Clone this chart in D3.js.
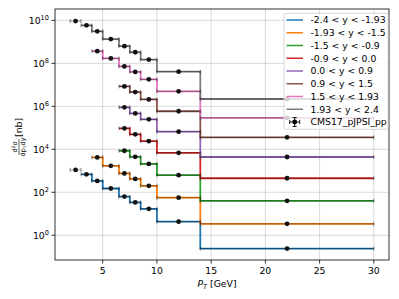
<!DOCTYPE html>
<html>
<head>
<meta charset="utf-8">
<script src="https://cdn.jsdelivr.net/npm/d3@7"></script>
<style>
  body { margin: 0; background: #fff; }
  svg { font-family: "DejaVu Sans", sans-serif; }
</style>
</head>
<body>
<svg id="chart" width="399" height="299"></svg>
<script>
// pT bin edges [GeV] and bin centres
const binEdges = [2, 3, 4, 5, 6.5, 7.5, 8.5, 10, 14, 30];
const binCenters = [2.5, 3.5, 4.5, 5.75, 7, 8, 9.25, 12, 22];

// rapidity bins (legend labels)
const seriesLabels = ["-2.4 < y < -1.93", "-1.93 < y < -1.5", "-1.5 < y < -0.9", "-0.9 < y < 0.0",
                      "0.0 < y < 0.9", "0.9 < y < 1.5", "1.5 < y < 1.93", "1.93 < y < 2.4"];

// cross sections per bin [nb], null = no bin
const ySeries = [
  [1.1e3, 6.9e2, 3.4e2, 1.5e2, 63, 34, 17, 4.3, 0.24],
  [null, null, 4.2e3, 1.7e3, 7.6e2, 4.2e2, 2.0e2, 56, 3.4],
  [null, null, null, null, 8.6e3, 4.5e3, 2.1e3, 6.3e2, 40],
  [null, null, null, null, 9.5e4, 5.0e4, 2.4e4, 6.9e3, 4.5e2],
  [null, null, null, null, 9.0e5, 4.7e5, 2.5e5, 6.6e4, 4.4e3],
  [null, null, null, null, 8.5e6, 4.6e6, 2.1e6, 5.9e5, 3.6e4],
  [null, null, 3.7e8, 1.7e8, 7.2e7, 4.0e7, 1.8e7, 5.0e6, 2.9e5],
  [9.3e9, 5.9e9, 3.1e9, 1.35e9, 6.3e8, 3.3e8, 1.5e8, 4.1e7, 2.2e6]
];
// first bin that has a step line drawn
const lineStart = [1, 2, 4, 4, 4, 4, 2, 1];

const xTicks = [5, 10, 15, 20, 25, 30];
const yTickExp = [0, 2, 4, 6, 8, 10];
const colors = ["#1f77b4", "#ff7f0e", "#2ca02c", "#d62728", "#9467bd", "#8c564b", "#e377c2", "#7f7f7f"];

const svg = d3.select("#chart");
const plotL = 55, plotR = 389, plotT = 9, plotB = 260;

const x = d3.scaleLinear().domain([0.6, 31.4]).range([plotL, plotR]);
const y = d3.scaleLog().domain([Math.pow(10, -1.15), Math.pow(10, 10.53)]).range([plotB, plotT]);

// grid
svg.append("g").selectAll("line").data(xTicks).join("line")
  .attr("x1", d => x(d)).attr("x2", d => x(d))
  .attr("y1", plotT).attr("y2", plotB)
  .attr("stroke", "#b0b0b0").attr("stroke-opacity", 0.6).attr("stroke-width", 0.8);
svg.append("g").selectAll("line").data(yTickExp).join("line")
  .attr("x1", plotL).attr("x2", plotR)
  .attr("y1", d => y(Math.pow(10, d))).attr("y2", d => y(Math.pow(10, d)))
  .attr("stroke", "#b0b0b0").attr("stroke-opacity", 0.6).attr("stroke-width", 0.8);

// step lines
const stepLine = d3.line().x(d => x(d[0])).y(d => y(d[1])).curve(d3.curveStepAfter);
ySeries.forEach((vals, s) => {
  const pts = [];
  for (let i = lineStart[s]; i < vals.length; i++) pts.push([binEdges[i], vals[i]]);
  pts.push([binEdges[vals.length], vals[vals.length - 1]]);
  svg.append("path").datum(pts)
    .attr("d", stepLine)
    .attr("fill", "none")
    .attr("stroke", colors[s])
    .attr("stroke-width", 1.8);
});

// data points with horizontal error bars
const errG = svg.append("g");
ySeries.forEach(vals => {
  vals.forEach((v, i) => {
    if (v === null) return;
    const yy = y(v), x0 = x(binEdges[i]), x1 = x(binEdges[i + 1]);
    errG.append("line").attr("x1", x0).attr("x2", x1).attr("y1", yy).attr("y2", yy)
      .attr("stroke", "#000").attr("stroke-opacity", 0.55).attr("stroke-width", 0.7);
    [x0, x1].forEach(cx => errG.append("line")
      .attr("x1", cx).attr("x2", cx).attr("y1", yy - 2).attr("y2", yy + 2)
      .attr("stroke", "#000").attr("stroke-opacity", 0.55).attr("stroke-width", 0.8));
    errG.append("circle").attr("cx", x(binCenters[i])).attr("cy", yy).attr("r", 2.4).attr("fill", "#111");
  });
});

// axes frame
svg.append("rect").attr("x", plotL).attr("y", plotT).attr("width", plotR - plotL).attr("height", plotB - plotT)
  .attr("fill", "none").attr("stroke", "#000").attr("stroke-width", 0.8);

// x ticks
const xg = svg.append("g");
xTicks.forEach(t => {
  xg.append("line").attr("x1", x(t)).attr("x2", x(t)).attr("y1", plotB).attr("y2", plotB + 3.5)
    .attr("stroke", "#000").attr("stroke-width", 0.8);
  xg.append("text").attr("x", x(t)).attr("y", plotB + 14).attr("text-anchor", "middle")
    .attr("font-size", 9.3).text(t);
});

// y ticks
const yg = svg.append("g");
yTickExp.forEach(e => {
  const yy = y(Math.pow(10, e));
  yg.append("line").attr("x1", plotL - 3.5).attr("x2", plotL).attr("y1", yy).attr("y2", yy)
    .attr("stroke", "#000").attr("stroke-width", 0.8);
  const t = yg.append("text").attr("x", plotL - 6).attr("y", yy + 3.3).attr("text-anchor", "end")
    .attr("font-size", 9.3);
  t.append("tspan").text("10");
  t.append("tspan").attr("dy", -4).attr("font-size", 6.6).text(e);
});

// x label
const xl = svg.append("text").attr("x", 217).attr("y", 287).attr("text-anchor", "middle").attr("font-size", 9.3);
xl.append("tspan").attr("font-style", "italic").text("P");
xl.append("tspan").attr("font-style", "italic").attr("font-size", 6.5).attr("dy", 2).text("T");
xl.append("tspan").attr("dy", -2).text(" [GeV]");

// y label: fraction d²σ / dp_T dy [nb]
const yl = svg.append("g").attr("transform", "translate(19,140) rotate(-90)");
const num = yl.append("text").attr("x", -7).attr("y", -2).attr("text-anchor", "middle").attr("font-size", 6.5);
num.append("tspan").text("d");
num.append("tspan").attr("dy", -2).attr("font-size", 4.5).text("2");
num.append("tspan").attr("dy", 2).text("σ");
yl.append("line").attr("x1", -15).attr("x2", 1).attr("y1", 0).attr("y2", 0)
  .attr("stroke", "#000").attr("stroke-width", 0.6);
const den = yl.append("text").attr("x", -7).attr("y", 6).attr("text-anchor", "middle").attr("font-size", 6.5);
den.append("tspan").text("dp");
den.append("tspan").attr("font-size", 4.5).attr("dy", 1.5).text("T");
den.append("tspan").attr("dy", -1.5).text("dy");
yl.append("text").attr("x", 3).attr("y", 3).attr("font-size", 9.3).text("[nb]");

// legend
const lg = svg.append("g");
lg.append("rect").attr("x", 284).attr("y", 13.3).attr("width", 104).attr("height", 116).attr("rx", 2)
  .attr("fill", "#fff").attr("fill-opacity", 0.8).attr("stroke", "#cccccc").attr("stroke-width", 0.8);
seriesLabels.forEach((lab, i) => {
  const yy = 20 + i * 12.75;
  lg.append("line").attr("x1", 286.5).attr("x2", 303).attr("y1", yy).attr("y2", yy)
    .attr("stroke", colors[i]).attr("stroke-width", 1.5);
  lg.append("text").attr("x", 310.5).attr("y", yy + 3.3).attr("font-size", 9.3).text(lab);
});
const ly = 20 + 8 * 12.75, lx = 294.7;
[[lx - 5, ly, lx + 5, ly], [lx, ly - 4.5, lx, ly + 4.5],
 [lx - 5, ly - 2, lx - 5, ly + 2], [lx + 5, ly - 2, lx + 5, ly + 2],
 [lx - 2, ly - 4.5, lx + 2, ly - 4.5], [lx - 2, ly + 4.5, lx + 2, ly + 4.5]].forEach(c => {
  lg.append("line").attr("x1", c[0]).attr("y1", c[1]).attr("x2", c[2]).attr("y2", c[3])
    .attr("stroke", "#000").attr("stroke-width", 0.9);
});
lg.append("circle").attr("cx", lx).attr("cy", ly).attr("r", 2.4).attr("fill", "#000");
lg.append("text").attr("x", 310.5).attr("y", ly + 3.3).attr("font-size", 9.3).text("CMS17_pJPSI_pp");
</script>
</body>
</html>
